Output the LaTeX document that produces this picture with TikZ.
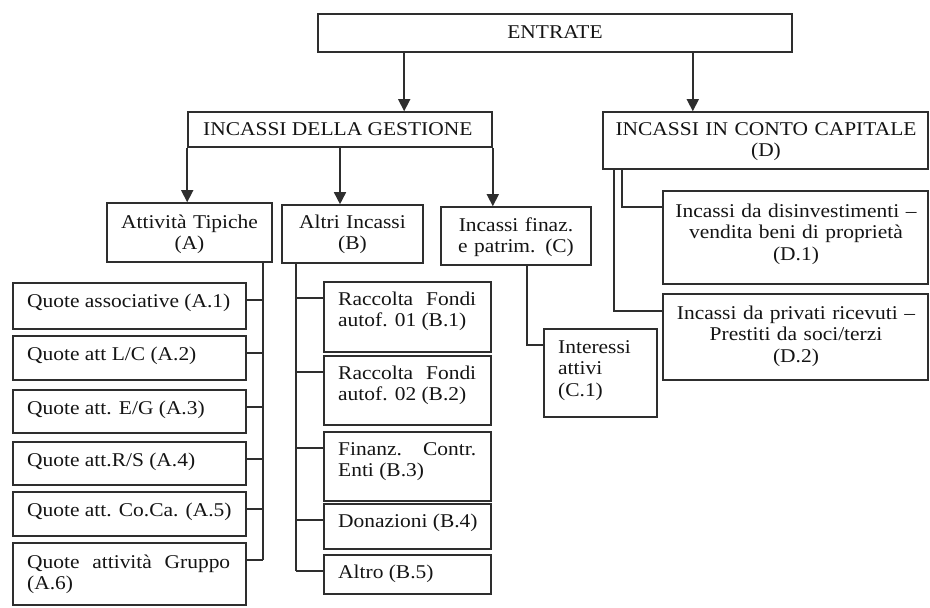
\documentclass[tikz,border=0pt]{standalone}
\usepackage{fontspec}
\setmainfont[FakeStretch=1.1]{Liberation Serif}
\usetikzlibrary{arrows.meta,fit}
\begin{document}
\begin{tikzpicture}[x=1pt,y=-1pt,
  box/.style={draw=black!82, line width=1.6pt, inner sep=0pt},
  txt/.style={inner sep=0pt, text=black!92, font=\fontsize{19.5}{21.5}\selectfont},
  ctxt/.style={txt, anchor=base, text width=#1, align=center},
  ltxt/.style={txt, anchor=base west, text width=#1, align=justify},
  conn/.style={draw=black!82, line width=1.6pt},
  arr/.style={conn, -{Triangle[width=12pt,length=12pt]}}]
\useasboundingbox (0,0) rectangle (930,608);

% top level
\node[box, fit={(318,14) (792,52)}] (e) {};
\node[ctxt=300pt] (et) at (555,38) {ENTRATE};

\node[box, fit={(188,112) (492,147)}] (g) {};
\node[txt, anchor=base west] (gt) at (203,135) {INCASSI DELLA GESTIONE};

\node[box, fit={(603,112) (928,169)}] (d) {};
\node[ctxt=320pt] (dt) at (766,135) {INCASSI IN CONTO CAPITALE\\(D)};

\draw[arr] ([xshift=87pt]e.south west) -- ([xshift=87pt]e.south west |- g.north);
\draw[arr] ([xshift=-100pt]e.south east) -- ([xshift=-100pt]e.south east |- d.north);

% second level
\node[box, fit={(107,203) (272,262)}] (at) {};
\node[ctxt=160pt] (att) at (189.5,228) {Attività Tipiche\\(A)};
\node[box, fit={(282,205) (423,263)}] (bi) {};
\node[ctxt=140pt] (bit) at (352.5,228) {Altri Incassi\\(B)};
\node[box, fit={(441,207) (591,265)}] (ci) {};
\node[ctxt=150pt] (cit) at (516,231) {Incassi finaz.\\e patrim. (C)};

\draw[arr] (g.south west) -- (g.south west |- at.north);
\draw[arr] (g.south) -- (g.south |- bi.north);
\draw[arr] (g.south east) -- (g.south east |- ci.north);

% A children
\node[box, fit={(13,283) (246,329)}] (a1) {};
\node[txt, anchor=base west] (a1t) at (27,307) {Quote associative (A.1)};
\node[box, fit={(13,336) (246,380)}] (a2) {};
\node[txt, anchor=base west] (a2t) at (27,360) {Quote att L/C (A.2)};
\node[box, fit={(13,390) (246,433)}] (a3) {};
\node[txt, anchor=base west] (a3t) at (27,414) {Quote att. E/G (A.3)};
\node[box, fit={(13,442) (246,485)}] (a4) {};
\node[txt, anchor=base west] (a4t) at (27,466) {Quote att.R/S (A.4)};
\node[box, fit={(13,492) (246,536)}] (a5) {};
\node[txt, anchor=base west] (a5t) at (27,516) {Quote att. Co.Ca. (A.5)};
\node[box, fit={(13,543) (246,605)}] (a6) {};
\node[ltxt=203pt] (a6t) at (27,568) {Quote attività Gruppo\linebreak (A.6)};

\coordinate (abus) at ([xshift=-10pt]at.south east);
\foreach \k in {1,...,6}{
  \coordinate (a\k b) at ([yshift=-18pt]a\k.north east);
  \draw[conn] (a\k b) -- (a\k b -| abus);
}
\draw[conn] (abus) -- (abus |- a6b);

% B children
\node[box, fit={(324,282) (491,352)}] (b1) {};
\node[ltxt=138pt] (b1t) at (338,305) {Raccolta Fondi\linebreak autof. 01 (B.1)};
\node[box, fit={(324,356) (491,425)}] (b2) {};
\node[ltxt=138pt] (b2t) at (338,379) {Raccolta Fondi\linebreak autof. 02 (B.2)};
\node[box, fit={(324,432) (491,501)}] (b3) {};
\node[ltxt=138pt] (b3t) at (338,455) {Finanz. Contr.\linebreak Enti (B.3)};
\node[box, fit={(324,504) (491,549)}] (b4) {};
\node[txt, anchor=base west] (b4t) at (338,527) {Donazioni (B.4)};
\node[box, fit={(324,555) (491,594)}] (b5) {};
\node[txt, anchor=base west] (b5t) at (338,578) {Altro (B.5)};

\coordinate (bbus) at ([xshift=15pt]bi.south west);
\foreach \k in {1,...,5}{
  \coordinate (b\k b) at ([yshift=-17pt]b\k.north west);
  \draw[conn] (b\k b) -- (b\k b -| bbus);
}
\draw[conn] (bbus) -- (bbus |- b5b);

% C child
\node[box, fit={(544,329) (657,417)}] (c1) {};
\node[txt, anchor=base west, text width=95pt, align=left] (c1t) at (558,353) {Interessi\\attivi\\(C.1)};
\coordinate (cbus) at ([xshift=-65pt]ci.south east);
\coordinate (c1b) at ([yshift=-17pt]c1.north west);
\draw[conn] (cbus) |- (c1b);

% D children
\node[box, fit={(663,191) (928,284)}] (d1) {};
\node[ctxt=260pt] (d1t) at (796,217) {Incassi da disinvestimenti –\\vendita beni di proprietà\\(D.1)};
\node[box, fit={(663,294) (928,380)}] (d2) {};
\node[ctxt=260pt] (d2t) at (796,319) {Incassi da privati ricevuti –\\Prestiti da soci/terzi\\(D.2)};

\coordinate (dbin) at ([xshift=20pt]d.south west);
\coordinate (dbout) at ([xshift=12pt]d.south west);
\coordinate (d1b) at ([yshift=-17pt]d1.north west);
\coordinate (d2b) at ([yshift=-18pt]d2.north west);
\draw[conn] (dbin) |- (d1b);
\draw[conn] (dbout) |- (d2b);
\end{tikzpicture}
\end{document}
